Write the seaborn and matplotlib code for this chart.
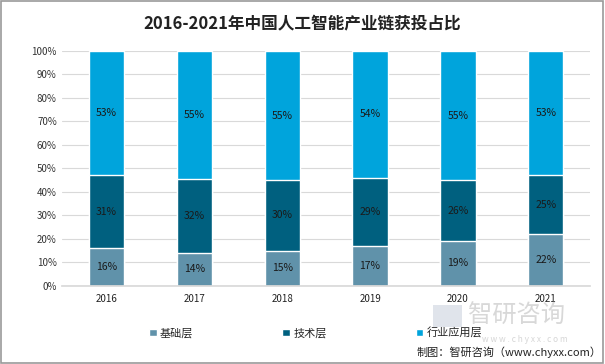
import numpy as np
import pandas as pd
import matplotlib.pyplot as plt
import seaborn as sns

years = ['2016', '2017', '2018', '2019', '2020', '2021']
base = [16, 14, 15, 17, 19, 22]
tech = [31, 32, 30, 29, 26, 25]
industry = [53, 55, 55, 54, 55, 53]
layers = ['基础层', '技术层', '行业应用层']
colors = ['#6092AA', '#00607F', '#00A4DC']

sns.set_theme(style='white')
plt.rcParams['font.family'] = ['Noto Sans CJK SC', 'DejaVu Sans']

df = pd.DataFrame({'year': years, '基础层': base, '技术层': tech, '行业应用层': industry})
total = df[layers].sum(axis=1)
# 100% stacked, like the excel original
share = df[layers].div(total, axis=0) * 100
cum = share.cumsum(axis=1)

fig = plt.figure(figsize=(6.05, 3.64), dpi=100)
ax = fig.add_axes([0.103, 0.215, 0.872, 0.645])

# draw from top layer down so each cumulative bar covers the one below
for lay, col in zip(layers[::-1], colors[::-1]):
    sns.barplot(x=df['year'], y=cum[lay], color=col, width=0.4, ax=ax,
                saturation=1, label=lay)

for i in range(len(years)):
    lo = 0
    for lay in layers:
        hi = cum.loc[i, lay]
        ax.text(i, (lo + hi) / 2, f'{df.loc[i, lay]}%', ha='center', va='center',
                fontsize=7.5, color='#1a1a1a')
        lo = hi

ax.set_ylim(0, 100)
ax.set_xlim(-0.5, 5.5)
ax.set_yticks(np.arange(0, 101, 10))
ax.set_yticklabels([f'{v}%' for v in range(0, 101, 10)], fontsize=7, color='#333333')
ax.tick_params(axis='x', labelsize=7, colors='#222222', length=0, pad=6)
ax.tick_params(axis='y', length=0, pad=4)
ax.set_xlabel('')
ax.set_ylabel('')
ax.yaxis.grid(True, color='#d9d9d9', linewidth=0.8)
ax.set_axisbelow(True)
for s in ['top', 'right', 'left']:
    ax.spines[s].set_visible(False)
ax.spines['bottom'].set_color('#d9d9d9')

handles, labels = ax.get_legend_handles_labels()
order = [labels.index(l) for l in layers]
ax.legend([handles[k] for k in order], layers, loc='upper center',
          bbox_to_anchor=(0.48, -0.135), ncol=3, frameon=False, fontsize=8,
          handlelength=0.7, handleheight=0.7, columnspacing=8.0, handletextpad=0.3)

fig.text(0.5, 0.935, '2016-2021年中国人工智能产业链获投占比', ha='center', va='center',
         fontsize=12, fontweight='bold', color='#222222')

# watermark
fig.patches.append(plt.Rectangle((0.716, 0.102), 0.048, 0.06, transform=fig.transFigure,
                                 facecolor='#d3d9e3', edgecolor='none', alpha=0.7))
fig.text(0.774, 0.131, '智研咨询', fontsize=17.5, color='#c8c8c8', alpha=0.7, va='center')
fig.text(0.797, 0.068, 'w w w . c h y x x . c o m', fontsize=6, color='#cccccc',
         alpha=0.8, va='center')

fig.text(0.995, 0.032, '制图：智研咨询（www.chyxx.com）', ha='right', va='center',
         fontsize=8, color='#222222')

fig.patches.append(plt.Rectangle((0.002, 0.003), 0.995, 0.994, transform=fig.transFigure,
                                 fill=False, edgecolor='#999999', linewidth=1.2))

fig.savefig('out.png', dpi=100)
